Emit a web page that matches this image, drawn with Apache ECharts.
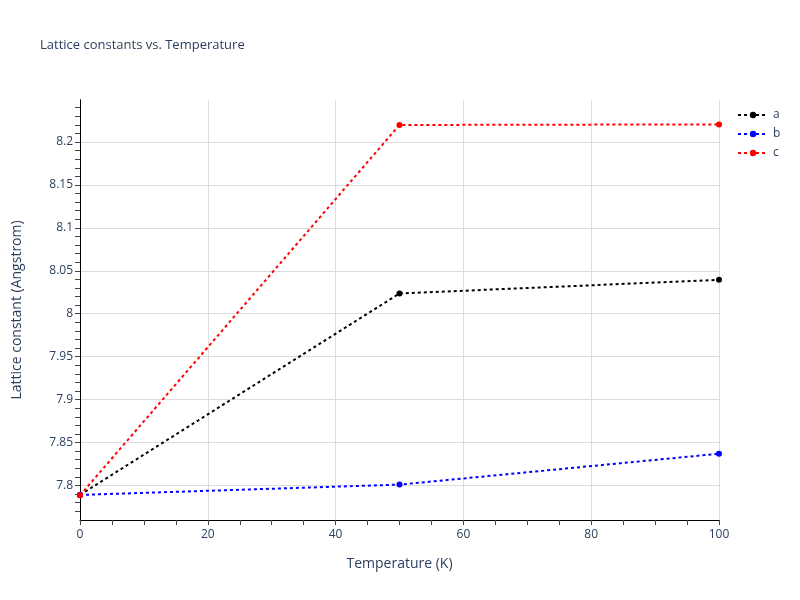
<!DOCTYPE html>
<html>
<head>
<meta charset="utf-8">
<script src="https://cdn.jsdelivr.net/npm/echarts@6/dist/echarts.min.js"></script>
<style>html,body{margin:0;padding:0;background:#fff}#c{width:800px;height:600px}</style>
</head>
<body>
<div id="c"></div>
<script>
const temperatures = [0, 50, 100];
const seriesA = [7.789, 8.0236, 8.0395];
const seriesB = [7.789, 7.801, 7.837];
const seriesC = [7.7885, 8.2198, 8.2205];
const seriesNames = ['a', 'b', 'c'];
const seriesColors = ['#000000', '#0000ff', '#ff0000'];
const yMajorTicks = [7.8, 7.85, 7.9, 7.95, 8.0, 8.05, 8.1, 8.15, 8.2];
const yMinorTicks = [7.77, 7.78, 7.79, 7.8, 7.81, 7.82, 7.83, 7.84, 7.85, 7.86, 7.87, 7.88, 7.89, 7.9,
  7.91, 7.92, 7.93, 7.94, 7.95, 7.96, 7.97, 7.98, 7.99, 8.0, 8.01, 8.02, 8.03, 8.04, 8.05, 8.06, 8.07,
  8.08, 8.09, 8.1, 8.11, 8.12, 8.13, 8.14, 8.15, 8.16, 8.17, 8.18, 8.19, 8.2, 8.21, 8.22, 8.23, 8.24];
const yMin = 7.7598, yMax = 8.2489;

const textColor = '#2a3f5f';
const font = 'Open Sans';
const gridColor = '#dcdcdc';
const allData = [seriesA, seriesB, seriesC];

const chart = echarts.init(document.getElementById('c'));
chart.setOption({
  backgroundColor: '#fff',
  animation: false,
  textStyle: { fontFamily: font },
  title: {
    text: 'Lattice constants vs. Temperature',
    left: 35, top: 34,
    textStyle: { fontFamily: font, fontSize: 13, fontWeight: 'normal', color: textColor }
  },
  legend: {
    orient: 'vertical', left: 732, top: 104,
    itemWidth: 30, itemHeight: 8, itemGap: 7,
    textStyle: { fontFamily: font, fontSize: 12, color: textColor },
    data: seriesNames
  },
  grid: { left: 80, right: 81, top: 100, bottom: 80, containLabel: false },
  xAxis: {
    type: 'value', min: 0, max: 100, interval: 20,
    name: 'Temperature (K)', nameLocation: 'middle', nameGap: 37,
    nameTextStyle: { fontFamily: font, fontSize: 14, color: textColor },
    axisLine: { show: true, lineStyle: { color: '#000', width: 1 } },
    axisTick: { show: true, inside: false, length: 5, lineStyle: { color: '#444' } },
    minorTick: { show: true, splitNumber: 4, length: 5, lineStyle: { color: '#444' } },
    axisLabel: { fontFamily: font, fontSize: 12, color: textColor, margin: 9 },
    splitLine: { show: true, lineStyle: { color: gridColor, width: 1 } }
  },
  yAxis: [{
    type: 'value', min: yMin, max: yMax, position: 'left',
    name: 'Lattice constant (Angstrom)', nameLocation: 'middle', nameGap: 56,
    nameTextStyle: { fontFamily: font, fontSize: 14, color: textColor },
    axisLine: { show: true, lineStyle: { color: '#000', width: 1 } },
    axisTick: { show: false, customValues: yMajorTicks },
    axisLabel: { fontFamily: font, fontSize: 12, color: textColor, margin: 7, customValues: yMajorTicks },
    splitLine: { show: true, lineStyle: { color: gridColor, width: 1 } }
  }, {
    type: 'value', min: yMin, max: yMax, position: 'left', offset: 0,
    axisLine: { show: true, lineStyle: { color: '#000', width: 1 } },
    axisTick: { show: true, inside: false, length: 5, customValues: yMinorTicks, lineStyle: { color: '#444' } },
    axisLabel: { show: false },
    splitLine: { show: false }
  }],
  series: seriesNames.map((n, i) => ({
    name: n, type: 'line', yAxisIndex: 0,
    data: temperatures.map((t, j) => [t, allData[i][j]]),
    symbol: 'circle', symbolSize: 6, showSymbol: true,
    color: seriesColors[i],
    itemStyle: { color: seriesColors[i] },
    lineStyle: { color: seriesColors[i], width: 2, type: [3, 3] },
    clip: true
  }))
});
</script>
</body>
</html>
